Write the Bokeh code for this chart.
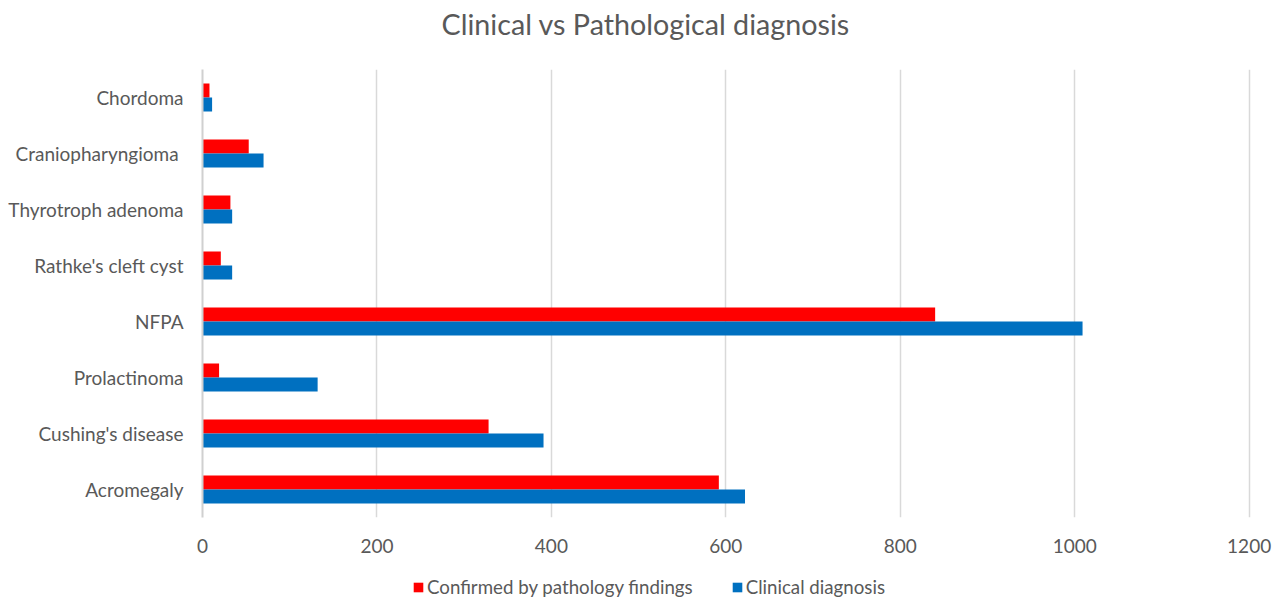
from bokeh.plotting import figure
from bokeh.layouts import column
from bokeh.models import FactorRange, Legend, LegendItem, Title, ColumnDataSource
from bokeh.transform import dodge
from bokeh.embed import file_html
from bokeh.resources import INLINE

categories = ["Acromegaly", "Cushing's disease", "Prolactinoma", "NFPA",
              "Rathke's cleft cyst", "Thyrotroph adenoma", "Craniopharyngioma ", "Chordoma"]
confirmed = [592, 328, 19, 840, 21, 32, 53, 8]
clinical = [622, 391, 132, 1009, 34, 34, 70, 11]
x_ticks = [0, 200, 400, 600, 800, 1000, 1200]
series_names = ["Confirmed by pathology findings", "Clinical diagnosis"]
series_colors = ["#FF0000", "#0070C0"]

FONT = "Lato"
GREY = "#595959"

src = ColumnDataSource(dict(cat=categories, confirmed=confirmed, clinical=clinical))

p = figure(frame_width=1051, frame_height=448, output_backend="svg", toolbar_location=None,
           y_range=FactorRange(*categories), x_range=(0, 1205),
           min_border_left=202, min_border_right=30, min_border_top=69,
           min_border_bottom=48, outline_line_color=None)

# spacer between frame and title, then the title itself
p.add_layout(Title(text=" ", text_font=FONT, text_font_size="22px", standoff=0), "above")
p.add_layout(Title(text="Clinical vs Pathological diagnosis", align="left", offset=239,
                   text_font=FONT, text_font_size="28.7px", text_font_style="normal",
                   text_color=GREY, standoff=0), "above")

r1 = p.hbar(y=dodge("cat", 0.125, range=p.y_range), right="confirmed", height=0.25,
            left=0, source=src, color=series_colors[0], line_color=None)
r2 = p.hbar(y=dodge("cat", -0.125, range=p.y_range), right="clinical", height=0.25,
            left=0, source=src, color=series_colors[1], line_color=None)

p.xaxis.ticker = x_ticks
p.xaxis.axis_line_color = None
p.xaxis.major_tick_line_color = None
p.xaxis.minor_tick_line_color = None
p.xaxis.major_label_text_font = FONT
p.xaxis.major_label_text_font_size = "19px"
p.xaxis.major_label_text_color = GREY
p.xaxis.major_label_standoff = 15

p.yaxis.axis_line_color = "#d0d0d0"
p.yaxis.axis_line_width = 2
p.yaxis.major_tick_line_color = None
p.yaxis.minor_tick_line_color = None
p.yaxis.major_label_text_font = FONT
p.yaxis.major_label_text_font_size = "19px"
p.yaxis.major_label_text_color = GREY
p.yaxis.major_label_standoff = 13

p.ygrid.grid_line_color = None
p.xgrid.grid_line_color = "#d9d9d9"
p.xgrid.grid_line_width = 1.5

# legend strip underneath (legend swatches come from off-range proxy glyphs)
lg = figure(width=1283, height=34, output_backend="svg", toolbar_location=None,
            x_range=(0, 1), y_range=(0, 1), min_border=0, outline_line_color=None)
lg.axis.visible = False
lg.grid.visible = False
e1 = lg.hbar(y=[-5], right=[-4], left=[-5], height=0.1, color=series_colors[0], line_color=None)
e2 = lg.hbar(y=[-5], right=[-4], left=[-5], height=0.1, color=series_colors[1], line_color=None)
legend = Legend(items=[LegendItem(label=series_names[0], renderers=[e1]),
                       LegendItem(label=series_names[1], renderers=[e2])],
                orientation="horizontal", location=(210, 1),
                label_text_font=FONT, label_text_font_size="18.7px", label_text_color=GREY,
                glyph_width=12, glyph_height=12, spacing=38, label_standoff=3,
                border_line_color=None, background_fill_alpha=0, padding=0, margin=0)
lg.add_layout(legend, "center")

layout = column(p, lg, spacing=0)
open("out.html", "w").write(file_html(layout, INLINE))
